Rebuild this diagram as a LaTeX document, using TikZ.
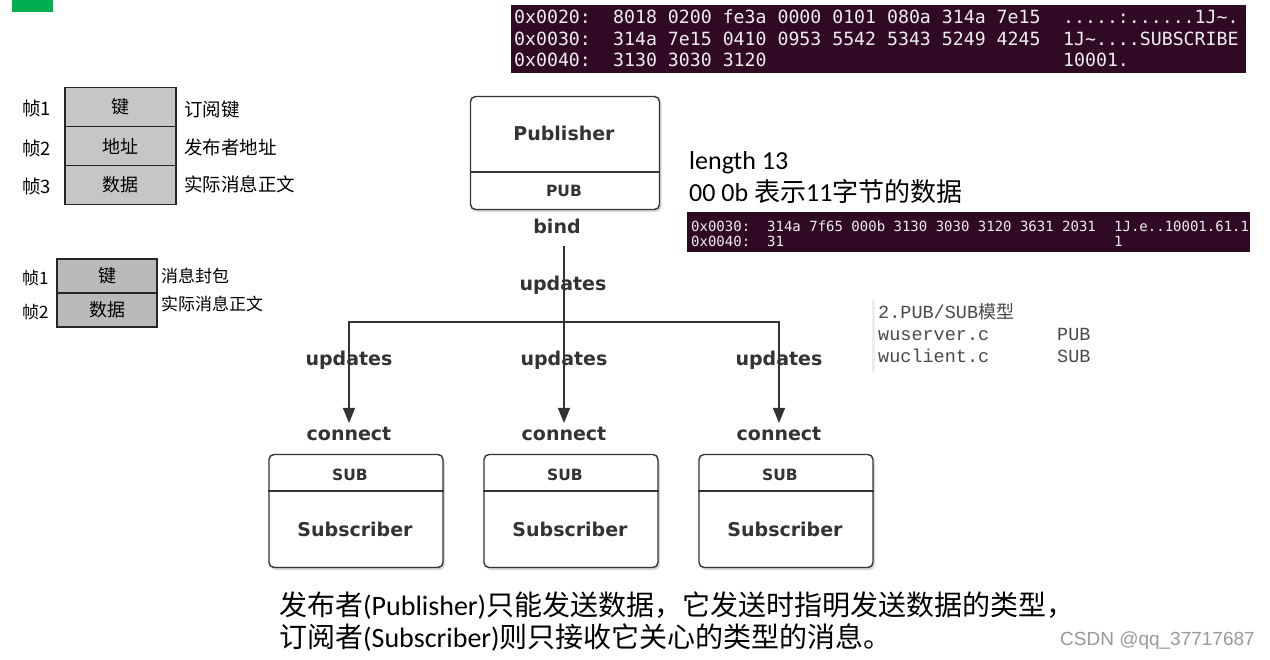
\documentclass[tikz,border=0pt]{standalone}
\usepackage{fontspec}
\setmainfont{Carlito}
\newfontfamily\cjk{Noto Sans CJK SC}
\newfontfamily\dvs{DejaVu Sans}
\newfontfamily\dmono{DejaVu Sans Mono}
\newfontfamily\lmono{Liberation Mono}
\newfontfamily\lsans{Liberation Sans}
\usetikzlibrary{arrows.meta,shadows}
\definecolor{termbg}{HTML}{300A24}
\definecolor{termtxt}{HTML}{EDEDED}
\definecolor{greenmark}{HTML}{00B050}
\definecolor{cellgray}{HTML}{C6C6C6}
\definecolor{linec}{HTML}{333333}
\definecolor{codec}{HTML}{4A4A4A}
\begin{document}
\begin{tikzpicture}[x=1pt,y=-1pt,
  diag/.style={font=\dvs\bfseries\fontsize{19}{22}\selectfont, text=black!80, inner sep=0pt, text height=14pt, text depth=4pt},
  tag/.style={font=\dvs\bfseries\fontsize{15.5}{18}\selectfont, text=black!80, inner sep=0pt, text height=12pt, text depth=0pt},
  rbox/.style={draw=linec, line width=1.4pt, fill=white, rounded corners=5pt, inner sep=0pt,
    drop shadow={opacity=0.3, shadow xshift=2pt, shadow yshift=-2.5pt}},
  cell/.style={draw=black!85, line width=1.8pt, fill=cellgray, inner sep=0pt, font=\cjk\fontsize{18}{20}\selectfont},
  arr/.style={draw=linec, line width=1.4pt, -{Triangle[length=15pt,width=12pt]}},
  lab/.style={anchor=west, inner sep=0pt, font=\cjk\fontsize{18.5}{20}\selectfont},
  labs/.style={anchor=west, inner sep=0pt, font=\cjk\fontsize{17}{19}\selectfont},
  ttxt/.style={anchor=west, inner sep=0pt, font=\dmono\fontsize{18.2}{21}\selectfont, text=termtxt, text height=13pt, text depth=3pt},
  ttxs/.style={anchor=west, inner sep=0pt, font=\dmono\fontsize{14}{16}\selectfont, text=termtxt, text height=10pt, text depth=2pt},
  code/.style={anchor=west, inner sep=0pt, font=\lmono\fontsize{18.5}{20}\selectfont, text=codec, text height=13pt, text depth=3pt},
  note/.style={anchor=west, inner sep=0pt, font=\fontsize{26}{30}\selectfont, text height=19pt, text depth=6pt},
  big/.style={anchor=west, inner sep=0pt, font=\fontsize{28}{32}\selectfont, text height=20pt, text depth=6pt}]
\useasboundingbox (0,0) rectangle (1270,660);
\fill[white] (0,0) rectangle (1270,660);

% green mark
\fill[greenmark] (12,0) rectangle (53,12);

% frame diagram 1
\node[cell, minimum width=111pt, minimum height=39pt] (k1) at (120.5,107) {键};
\node[cell, minimum width=111pt, minimum height=39pt] (k2) at (120.5,146) {地址};
\node[cell, minimum width=111pt, minimum height=39pt] (k3) at (120.5,185) {数据};
\node[lab] (f1) at (22,109) {帧1};
\node[lab] (f2) at (22,149) {帧2};
\node[lab] (f3) at (22,186) {帧3};
\node[lab] (d1) at (184,109) {订阅键};
\node[lab] (d2) at (184,147) {发布者地址};
\node[lab] (d3) at (184,184) {实际消息正文};

% frame diagram 2
\node[cell, minimum width=100pt, minimum height=34pt, fill=black!27] (m1) at (107,276) {键};
\node[cell, minimum width=100pt, minimum height=34pt, fill=black!27] (m2) at (107,310) {数据};
\node[labs] (g1) at (22,278) {帧1};
\node[labs] (g2) at (22,312) {帧2};
\node[labs] (e1) at (161,276) {消息封包};
\node[labs] (e2) at (161,304) {实际消息正文};

% terminal 1
\fill[termbg] (511,5) rectangle (1246,73);
\node[ttxt] (a1) at (514,19) {0x0020:};
\node[ttxt] (h1) at (613,19) {8018 0200 fe3a 0000 0101 080a 314a 7e15};
\node[ttxt] (s1t) at (1063,19) {.....:......1J\string~.};
\node[ttxt] (a2) at (514,41) {0x0030:};
\node[ttxt] (h2) at (613,41) {314a 7e15 0410 0953 5542 5343 5249 4245};
\node[ttxt] (s2t) at (1063,41) {1J\string~....SUBSCRIBE};
\node[ttxt] (a3) at (514,62) {0x0040:};
\node[ttxt] (h3) at (613,62) {3130 3030 3120};
\node[ttxt] (s3t) at (1063,62) {10001.};

% length note
\node[note] (len1) at (689,163) {length 13};
\node[note] (len2) at (689,195) {00 0b {\cjk 表示}11{\cjk 字节的数据}};

% terminal 2
\fill[termbg] (687,212) rectangle (1250,252);
\node[ttxs] (b1) at (691,228) {0x0030:};
\node[ttxs] (i1) at (767,228) {314a 7f65 000b 3130 3030 3120 3631 2031};
\node[ttxs] (j1) at (1114,228) {1J.e..10001.61.1};
\node[ttxs] (b2) at (691,243) {0x0040:};
\node[ttxs] (i2) at (767,243) {31};
\node[ttxs] (j2) at (1114,243) {1};

% code snippet
\fill[black!7] (872,300) rectangle (875,372);
\node[code] (c0) at (878,314) {2.PUB/SUB{\cjk\fontsize{18}{20}\selectfont 模型}};
\node[code] (c1) at (878,336) {wuserver.c};
\node[code] (c1b) at (1057,336) {PUB};
\node[code] (c2) at (878,358) {wuclient.c};
\node[code] (c2b) at (1057,358) {SUB};

% publisher
\node[rbox, minimum width=189pt, minimum height=113pt] (pub) at (565,153) {};
\draw[linec, line width=1.4pt] ([yshift=38pt]pub.south west) -- ([yshift=38pt]pub.south east);
\node[diag] (pubname) at (564,136) {Publisher};
\node[tag] (publab) at (564,191) {PUB};
\node[diag] (bind) at (557,229) {bind};

% connectors
\coordinate (hub) at (564,322);
\coordinate (t1) at (349,423);
\coordinate (t2) at (564,423);
\coordinate (t3) at (779,423);
\draw[linec, line width=1.4pt] (564,246) -- (hub);
\draw[arr] (hub) -- (t2);
\draw[arr] (hub) -| (t1);
\draw[arr] (hub) -| (t3);
\node[diag] (u0) at (563,286) {updates};
\node[diag] (u1) at (349,361) {updates};
\node[diag] (u2) at (564,361) {updates};
\node[diag] (u3) at (779,361) {updates};
\node[diag] (cn1) at (349,436) {connect};
\node[diag] (cn2) at (564,436) {connect};
\node[diag] (cn3) at (779,436) {connect};

% subscribers
\foreach \n/\cx in {1/356, 2/571, 3/786} {
  \node[rbox, minimum width=174pt, minimum height=113pt] (sub\n) at (\cx,511) {};
  \draw[linec, line width=1.4pt] ([yshift=-37pt]sub\n.north west) -- ([yshift=-37pt]sub\n.north east);
  \node[tag] (sublab\n) at (\cx-6,474) {SUB};
  \node[diag] (subname\n) at (\cx-1,531) {Subscriber};
}

% bottom text
\node[big] (bt1) at (279,608) {{\cjk 发布者}(Publisher){\cjk 只能发送数据，它发送时指明发送数据的类型，}};
\node[big] (bt2) at (279,640) {{\cjk 订阅者}(Subscriber){\cjk 则只接收它关心的类型的消息。}};

% watermark
\node[anchor=east, inner sep=0pt, font=\lsans\fontsize{19}{21}\selectfont, text=black!40] (wm) at (1255,641) {CSDN @qq\_37717687};
\end{tikzpicture}
\end{document}
